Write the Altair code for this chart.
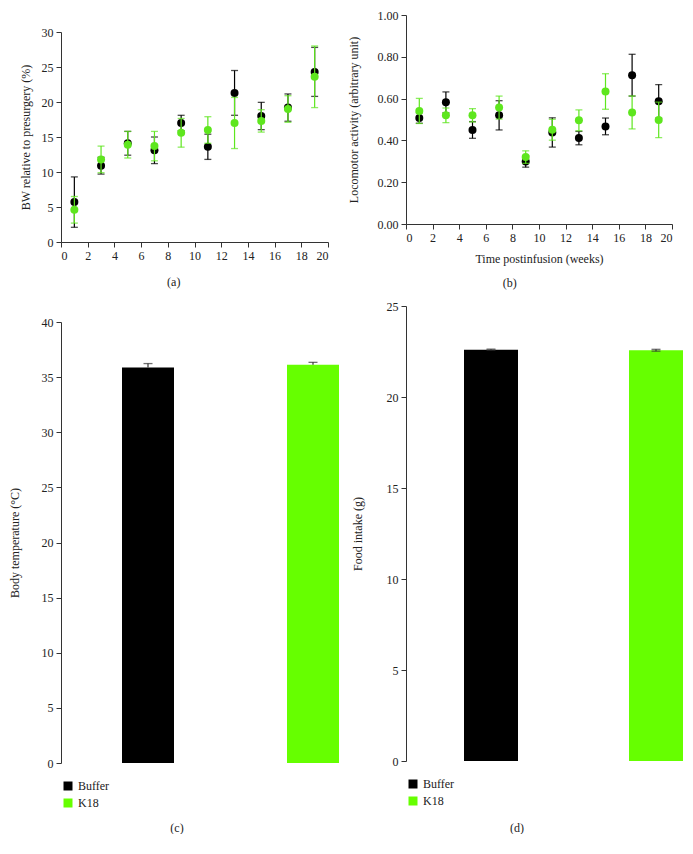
import altair as alt
import pandas as pd

# ---------------- data ----------------
weeks = [1, 3, 5, 7, 9, 11, 13, 15, 17, 19]
groups = ["Buffer", "K18"]

bw_buffer = [5.7, 10.9, 14.1, 13.1, 17.0, 13.6, 21.3, 18.0, 19.2, 24.3]
bw_buffer_sem = [3.6, 1.2, 1.7, 1.9, 1.1, 1.8, 3.2, 1.95, 1.95, 3.5]
bw_k18 = [4.6, 11.8, 13.9, 13.7, 15.6, 16.0, 17.0, 17.3, 19.0, 23.6]
bw_k18_sem = [1.9, 1.9, 1.9, 2.1, 2.05, 1.9, 3.65, 1.6, 1.9, 4.4]

loco_buffer = [0.507, 0.582, 0.45, 0.52, 0.299, 0.438, 0.411, 0.467, 0.712, 0.587]
loco_buffer_sem = [0.025, 0.05, 0.04, 0.07, 0.027, 0.07, 0.032, 0.04, 0.10, 0.08]
loco_k18 = [0.541, 0.52, 0.52, 0.557, 0.32, 0.451, 0.496, 0.634, 0.534, 0.498]
loco_k18_sem = [0.06, 0.035, 0.032, 0.055, 0.03, 0.05, 0.05, 0.085, 0.079, 0.085]

temp_mean = [35.88, 36.12]
temp_sem = [0.35, 0.22]

food_mean = [22.60, 22.57]
food_sem = [0.03, 0.05]

point_colors = ["#000000", "#5ee61e"]
bar_colors = ["#000000", "#66ff00"]
FONT = "Liberation Serif"


def scatter_df(buf, buf_sem, k18, k18_sem):
    rows = []
    for g, vals, sems in (("Buffer", buf, buf_sem), ("K18", k18, k18_sem)):
        for w, v, s in zip(weeks, vals, sems):
            rows.append({"week": w, "value": v, "lo": v - s, "hi": v + s, "group": g})
    return pd.DataFrame(rows)


def caption(text, offset):
    return alt.TitleParams(text, orient="bottom", offset=offset, fontSize=12,
                           font=FONT, fontWeight="normal", anchor="middle",
                           frame="bounds", color="#222")


def spacer(df, top_space):
    # invisible element reserving room above the plot area
    return alt.Chart(df.head(1)).mark_rule(opacity=0, strokeOpacity=0).encode(
        x=alt.value(0), y=alt.value(-top_space), y2=alt.value(0))


def scatter_panel(df, ydomain, yvalues, yfmt, ytitle, title_x, xtitle, cap,
                  width, height, top_space=None):
    xaxis = alt.Axis(values=list(range(0, 21, 2)), title=xtitle, titlePadding=10)
    x = alt.X("week:Q", scale=alt.Scale(domain=[0, 20], nice=False), axis=xaxis)
    yscale = alt.Scale(domain=ydomain, nice=False)
    yaxis = alt.Axis(values=yvalues, format=yfmt, title=ytitle, titleX=title_x)
    layers = []
    for g, col in zip(groups, point_colors):
        b = alt.Chart(df).transform_filter(alt.datum.group == g)
        layers.append(b.mark_rule(color=col, strokeWidth=1.2).encode(
            x=x, y=alt.Y("lo:Q", scale=yscale, axis=yaxis), y2="hi:Q"))
        layers.append(b.mark_tick(color=col, orient="horizontal", size=7, thickness=1.3).encode(
            x=x, y=alt.Y("lo:Q", scale=yscale, axis=yaxis)))
        layers.append(b.mark_tick(color=col, orient="horizontal", size=7, thickness=1.3).encode(
            x=x, y=alt.Y("hi:Q", scale=yscale, axis=yaxis)))
        layers.append(b.mark_circle(color=col, size=64, opacity=1).encode(
            x=x, y=alt.Y("value:Q", scale=yscale, axis=yaxis)))
    if top_space:
        layers.append(spacer(df, top_space))
    return alt.layer(*layers).properties(width=width, height=height, title=cap)


def bar_panel(means, sems, full_err, ydomain, yvalues, ytitle, title_x, cap,
              width, height, bar_size, xrange, top_space=None):
    lo = [m - s if full_err else m for m, s in zip(means, sems)]
    hi = [m + s for m, s in zip(means, sems)]
    df = pd.DataFrame({"group": groups, "mean": means, "lo": lo, "hi": hi})
    x = alt.X("group:N", scale=alt.Scale(type="point", domain=groups, range=xrange, padding=0),
              axis=None)
    yscale = alt.Scale(domain=ydomain, nice=False)
    yaxis = alt.Axis(values=yvalues, title=ytitle, titleX=title_x)
    bars = alt.Chart(df).mark_bar(size=bar_size).encode(
        x=x,
        y=alt.Y("mean:Q", scale=yscale, axis=yaxis),
        color=alt.Color("group:N", scale=alt.Scale(domain=groups, range=bar_colors),
                        legend=alt.Legend(title=None, orient="none", legendX=1,
                                          legendY=height + 17, symbolType="square",
                                          symbolSize=81, symbolStrokeWidth=0,
                                          labelFont=FONT, labelFontSize=12,
                                          labelColor="#222", rowPadding=5,
                                          direction="vertical")),
    )
    err = alt.Chart(df).mark_rule(color="#333", strokeWidth=1.2).encode(
        x=x, y=alt.Y("lo:Q", scale=yscale, axis=yaxis), y2="hi:Q")
    cap_top = alt.Chart(df).mark_tick(color="#333", orient="horizontal", size=9, thickness=1.3).encode(
        x=x, y=alt.Y("hi:Q", scale=yscale, axis=yaxis))
    layers = [bars, err, cap_top]
    if full_err:
        layers.append(alt.Chart(df).mark_tick(color="#333", orient="horizontal", size=9, thickness=1.3).encode(
            x=x, y=alt.Y("lo:Q", scale=yscale, axis=yaxis)))
    if top_space:
        layers.append(spacer(df, top_space))
    return alt.layer(*layers).properties(width=width, height=height, title=cap)


def empty_cell():
    return alt.Chart(alt.Data(values=[])).mark_point(opacity=0).encode(
        x=alt.value(0), y=alt.value(0)).properties(width=1, height=1)


a = scatter_panel(scatter_df(bw_buffer, bw_buffer_sem, bw_k18, bw_k18_sem),
                  [0, 30], list(range(0, 31, 5)), "d", "BW relative to presurgery (%)", -29,
                  None, caption("(a)", 16), 267, 210, top_space=23)
b = scatter_panel(scatter_df(loco_buffer, loco_buffer_sem, loco_k18, loco_k18_sem),
                  [0, 1], [0, 0.2, 0.4, 0.6, 0.8, 1.0], ".2f",
                  "Locomotor activity (arbitrary unit)", -46,
                  "Time postinfusion (weeks)", caption("(b)", 14), 266, 209)
c = bar_panel(temp_mean, temp_sem, False, [0, 40], list(range(0, 41, 5)),
              "Body temperature (°C)", -40, caption("(c)", 14), 285, 441, 52,
              [87, 252], top_space=16)
d = bar_panel(food_mean, food_sem, True, [0, 25], list(range(0, 26, 5)),
              "Food intake (g)", -42, caption("(d)", 16), 276, 455, 54,
              [85, 250], top_space=17)

chart = alt.concat(
    empty_cell(), empty_cell(), a, b, c, d, columns=2,
    spacing={"row": 0, "column": 0},
    align={"row": "none", "column": "each"},
).resolve_scale(color="independent").resolve_legend(color="independent").properties(
    padding={"left": 0, "top": 0, "right": 0, "bottom": 0},
    background="white",
).configure_view(stroke=None).configure_axis(
    labelFont=FONT, labelFontSize=12, labelColor="#222",
    titleFont=FONT, titleFontSize=12, titleFontWeight="normal", titleColor="#222",
    domainColor="#333", tickColor="#333", tickSize=5, labelPadding=3, grid=False,
)

chart.save("out.html", embed_options={"renderer": "svg", "actions": False})
